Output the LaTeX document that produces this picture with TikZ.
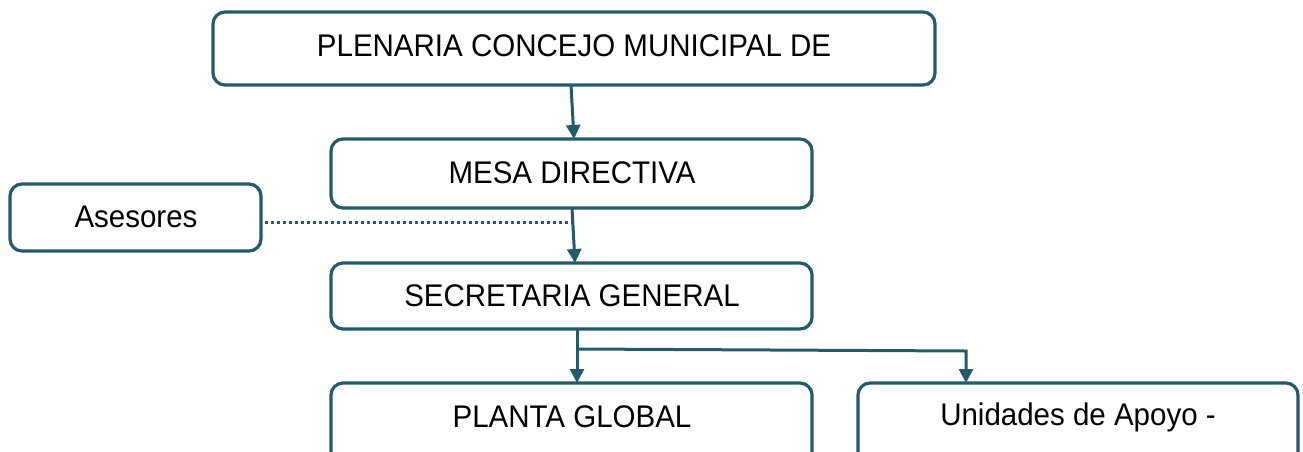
\documentclass[tikz,border=0pt]{standalone}
\usepackage{fontspec}
\setmainfont{Liberation Sans}
\usetikzlibrary{arrows.meta}
\definecolor{teal}{HTML}{245B6B}
\tikzset{
  orgbox/.style={draw=teal, line width=3.2pt, rounded corners=12pt, fill=white, inner sep=0pt},
  conn/.style={draw=teal, line width=3pt, -{Triangle[width=14pt,length=14pt]}},
  dotline/.style={draw=teal, line width=3pt, dash pattern=on 2.5pt off 3.5pt},
  lbl/.style={font=\fontsize{29.5}{35}\selectfont, text=black, anchor=center, yscale=1.06}
}
\begin{document}
\begin{tikzpicture}[x=1pt,y=-1pt]
\useasboundingbox (0,0) rectangle (1303,451);
% boxes
\draw[orgbox] (213,12) rectangle (935,85);
\node[lbl] (plen) at (574,46) {PLENARIA CONCEJO MUNICIPAL DE};
\coordinate (plenB) at (571,85);
\draw[orgbox] (331,139) rectangle (812,208);
\node[lbl] (mesa) at (572,173) {MESA DIRECTIVA};
\coordinate (mesaT) at (574,139);
\coordinate (mesaB) at (572,208);
\draw[orgbox] (10,184) rectangle (261,251);
\node[lbl] (ases) at (136,217) {Asesores};
\coordinate (asesR) at (265,222);
\coordinate (dotEnd) at (573,222);
\draw[orgbox] (331,263) rectangle (812,329);
\node[lbl] (secr) at (572,296) {SECRETARIA GENERAL};
\coordinate (secrT) at (575,263);
\coordinate (secrB) at (577,329);
\draw[orgbox] (331,383) rectangle (812,470);
\node[lbl] (plan) at (572,417) {PLANTA GLOBAL};
\coordinate (planT) at (577,383);
\draw[orgbox] (858,383) rectangle (1298,470);
\node[lbl] (unid) at (1078,417) {Unidades de Apoyo -};
\coordinate (unidT) at (966,383);
\coordinate (br1) at (578,349);
\coordinate (br2) at (966,351);
% connectors
\draw[conn] (plenB) -- (mesaT);
\draw[conn] (mesaB) -- (secrT);
\draw[dotline] (asesR) -- (dotEnd);
\draw[conn] (secrB) -- (planT);
\draw[conn] (br1) -- (br2) -- (unidT);
\end{tikzpicture}
\end{document}
